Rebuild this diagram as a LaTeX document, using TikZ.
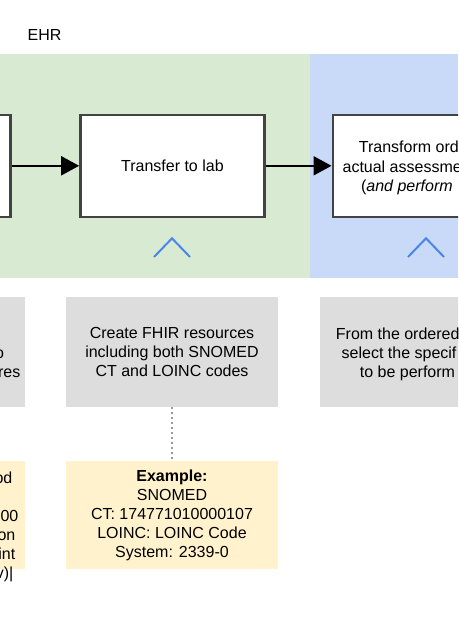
\documentclass[tikz,border=0pt]{standalone}
\usepackage{fontspec}
\setmainfont{Liberation Sans}
\usetikzlibrary{arrows.meta}
\definecolor{bandgreen}{HTML}{D9EAD3}
\definecolor{bandblue}{HTML}{C9DAF8}
\definecolor{grayfill}{HTML}{DDDDDD}
\definecolor{notefill}{HTML}{FFF2CC}
\definecolor{chevblue}{HTML}{4A86E8}
\definecolor{boxborder}{HTML}{434343}
\definecolor{dotgray}{HTML}{9A9A9A}
\begin{document}
\begin{tikzpicture}[x=1pt,y=-1pt,
  txt/.style={font=\fontsize{16}{19}\selectfont, inner sep=0pt, text=black},
  stepbox/.style={draw=boxborder, line width=2.5pt, fill=white, minimum width=184pt, minimum height=102pt, inner sep=0pt, txt},
  graybox/.style={fill=grayfill, minimum width=212pt, minimum height=110pt, inner sep=0pt, align=center, txt},
  notebox/.style={fill=notefill, minimum width=212pt, minimum height=108pt, inner sep=0pt, align=center, txt},
  flow/.style={draw=black, line width=2pt, -{Triangle[length=18pt,width=19pt]}},
  chev/.style={draw=chevblue, line width=2pt},
  dotlink/.style={draw=dotgray, line width=1.6pt, dash pattern=on 1.6pt off 3.4pt}]
\useasboundingbox (0,0) rectangle (458,631);
\clip (0,0) rectangle (458,631);
% lanes
\fill[bandgreen] (0,54) rectangle (310,278);
\fill[bandblue] (310,54) rectangle (458,278);
\node[txt, anchor=base west] (ehr) at (27.5,41) {EHR};
% process boxes
\node[stepbox] (prev) at (-81.5,165.8) {};
\node[stepbox] (lab) at (172.4,165.8) {Transfer to lab};
\node[stepbox] (xform) at (424.8,165.8) {};
\node[txt, anchor=base west] (xt1) at (358.7,153) {Transform ord};
\node[txt, anchor=base west] (xt2) at (342.4,172) {actual assessme};
\node[txt, anchor=base west] (xt3) at (360.9,191) {(\textit{and perform}};
\draw[flow] (prev.east) -- (lab.west);
\draw[flow] (lab.east) -- (xform.west);
% chevrons
\draw[chev] (154,257) -- (172,238.3) -- (190,257);
\draw[chev] (408,257) -- (426,238.3) -- (444,257);
% gray description boxes
\node[graybox] (lgray) at (-81,352) {};
\node[txt, anchor=base east] (lg2) at (4.1,358) {o};
\node[txt, anchor=base east] (lg3) at (20.5,377) {res};
\node[graybox] (mgray) at (172,352) {Create FHIR resources\\including both SNOMED\\CT and LOINC codes};
\node[graybox] (rgray) at (426,352) {};
\node[txt, anchor=base west] (rg1) at (335.7,339) {From the ordered};
\node[txt, anchor=base west] (rg2) at (341.5,358) {select the specif};
\node[txt, anchor=base west] (rg3) at (359.7,377) {to be perform};
% example notes
\node[notebox] (lnote) at (-81,515) {};
\node[txt, anchor=base east] (ln1) at (12.6,483) {od};
\node[txt, anchor=base east] (ln3) at (18.6,521) {00};
\node[txt, anchor=base east] (ln4) at (15.6,540) {on};
\node[txt, anchor=base east] (ln5) at (15.5,559) {int};
\node[txt, anchor=base east] (ln6) at (13.6,578) {v)|};
\node[notebox] (mnote) at (172,515) {\textbf{Example:}\\SNOMED\\CT: 174771010000107\\LOINC: LOINC Code\\System: 2339-0};
\draw[dotlink] (mgray.south) -- (mnote.north);
\end{tikzpicture}
\end{document}
